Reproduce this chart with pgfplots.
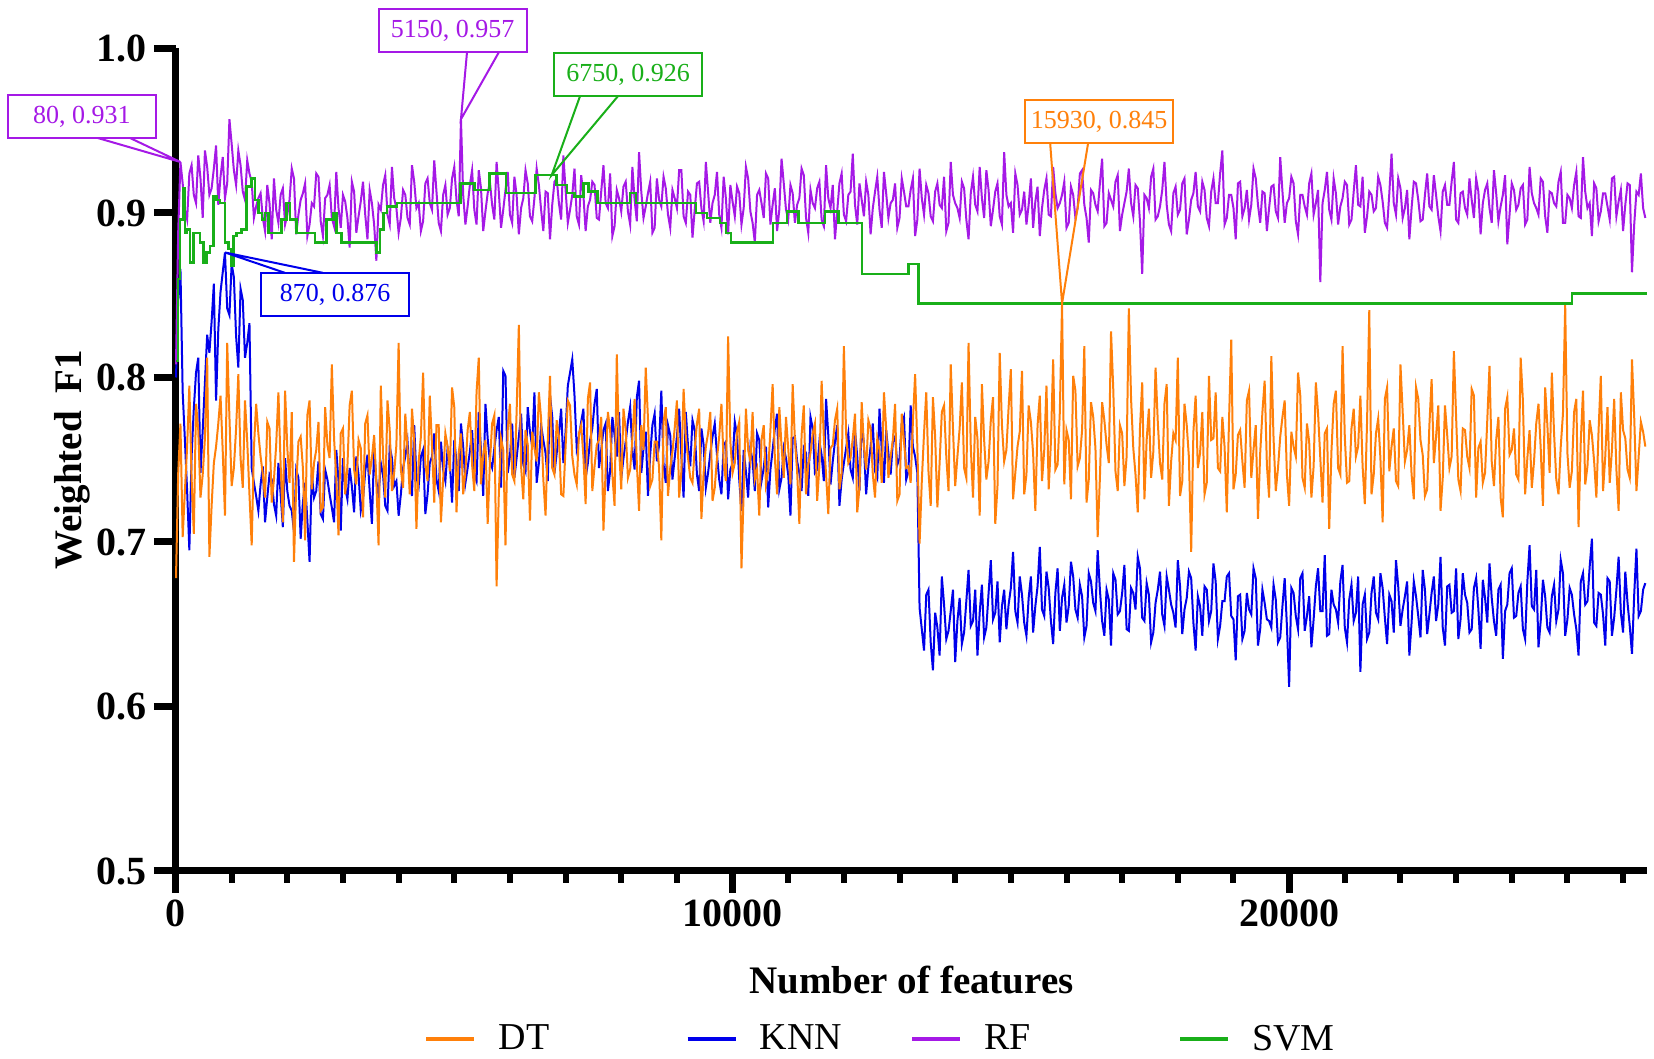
\documentclass[border=0pt]{standalone}
\usepackage{fontspec}
\setmainfont{Liberation Serif}[BoldFont={Liberation Serif Bold}]
\usepackage{pgfplots}
\usepackage{pgfplotstable}
\pgfplotsset{compat=1.18}
\definecolor{cDT}{RGB}{255,128,10}
\definecolor{cKNN}{RGB}{0,0,235}
\definecolor{cRF}{RGB}{165,25,230}
\definecolor{cSVM}{RGB}{25,175,25}

\pgfplotstableread{
x dt knn rf
0 0.678 0.800 0.808
40 0.742 0.848 0.889
80 0.772 0.866 0.931
120 0.703 0.791 0.918
160 0.731 0.762 0.902
200 0.758 0.731 0.896
240 0.795 0.695 0.924
280 0.739 0.752 0.929
320 0.705 0.781 0.911
360 0.784 0.803 0.906
400 0.768 0.812 0.935
440 0.727 0.742 0.921
480 0.741 0.768 0.897
520 0.763 0.797 0.938
560 0.812 0.826 0.928
600 0.691 0.815 0.911
640 0.722 0.834 0.915
680 0.748 0.857 0.927
720 0.758 0.786 0.941
760 0.772 0.829 0.905
800 0.789 0.852 0.922
840 0.755 0.864 0.934
880 0.716 0.876 0.909
920 0.821 0.842 0.918
960 0.776 0.838 0.957
1000 0.734 0.869 0.942
1040 0.745 0.861 0.926
1080 0.769 0.825 0.917
1120 0.802 0.806 0.938
1160 0.751 0.854 0.929
1200 0.733 0.847 0.913
1240 0.786 0.812 0.908
1280 0.761 0.821 0.932
1320 0.729 0.833 0.924
1360 0.698 0.745 0.919
1400 0.757 0.736 0.897
1440 0.784 0.728 0.904
1480 0.766 0.719 0.909
1520 0.752 0.735 0.912
1560 0.741 0.746 0.897
1600 0.727 0.712 0.889
1640 0.773 0.727 0.917
1680 0.769 0.741 0.906
1720 0.724 0.738 0.884
1760 0.738 0.723 0.921
1800 0.759 0.716 0.902
1840 0.791 0.748 0.894
1880 0.747 0.729 0.911
1920 0.712 0.709 0.915
1960 0.792 0.751 0.893
2000 0.757 0.731 0.899
2040 0.736 0.722 0.908
2080 0.779 0.719 0.927
2120 0.688 0.706 0.921
2160 0.734 0.744 0.887
2200 0.761 0.739 0.899
2240 0.764 0.702 0.908
2280 0.745 0.724 0.912
2320 0.701 0.736 0.918
2360 0.777 0.713 0.886
2400 0.786 0.688 0.893
2440 0.732 0.742 0.906
2480 0.748 0.727 0.904
2520 0.756 0.731 0.924
2560 0.773 0.749 0.922
2600 0.719 0.717 0.895
2640 0.721 0.714 0.886
2680 0.782 0.744 0.909
2720 0.759 0.738 0.911
2760 0.751 0.729 0.917
2800 0.808 0.721 0.897
2840 0.763 0.712 0.892
2880 0.739 0.756 0.925
2920 0.704 0.737 0.903
2960 0.766 0.707 0.891
3000 0.769 0.751 0.911
3040 0.729 0.733 0.907
3080 0.746 0.726 0.897
3120 0.783 0.745 0.879
3160 0.792 0.734 0.919
3200 0.744 0.718 0.913
3240 0.735 0.752 0.888
3280 0.762 0.741 0.898
3320 0.757 0.719 0.907
3360 0.715 0.726 0.919
3400 0.772 0.743 0.899
3440 0.777 0.753 0.884
3480 0.741 0.731 0.914
3520 0.751 0.711 0.906
3560 0.765 0.757 0.893
3600 0.736 0.737 0.871
3640 0.698 0.728 0.905
3680 0.795 0.748 0.902
3720 0.753 0.741 0.917
3760 0.727 0.722 0.923
3800 0.786 0.719 0.899
3840 0.768 0.758 0.893
3880 0.731 0.751 0.928
3920 0.742 0.734 0.909
3960 0.759 0.737 0.903
4000 0.821 0.716 0.888
4040 0.744 0.729 0.897
4080 0.733 0.745 0.914
4120 0.778 0.752 0.911
4160 0.756 0.761 0.897
4200 0.729 0.738 0.893
4240 0.781 0.728 0.929
4280 0.762 0.771 0.919
4320 0.708 0.739 0.903
4360 0.749 0.734 0.906
4400 0.764 0.752 0.889
4440 0.803 0.756 0.895
4480 0.747 0.717 0.918
4520 0.737 0.729 0.921
4560 0.789 0.748 0.906
4600 0.758 0.752 0.902
4640 0.724 0.766 0.932
4680 0.771 0.738 0.913
4720 0.771 0.731 0.894
4760 0.712 0.761 0.889
4800 0.738 0.744 0.911
4840 0.766 0.737 0.917
4880 0.758 0.757 0.899
4920 0.743 0.749 0.903
4960 0.794 0.724 0.921
5000 0.782 0.762 0.928
5040 0.718 0.749 0.908
5080 0.754 0.731 0.898
5120 0.766 0.772 0.957
5160 0.729 0.758 0.911
5200 0.743 0.736 0.893
5240 0.768 0.745 0.904
5280 0.779 0.755 0.917
5320 0.747 0.768 0.926
5360 0.731 0.741 0.902
5400 0.791 0.737 0.893
5440 0.812 0.779 0.926
5480 0.735 0.756 0.915
5520 0.753 0.728 0.889
5560 0.762 0.784 0.901
5600 0.711 0.763 0.912
5640 0.748 0.749 0.919
5680 0.772 0.745 0.905
5720 0.777 0.757 0.896
5760 0.673 0.768 0.931
5800 0.729 0.776 0.913
5840 0.763 0.733 0.891
5880 0.756 0.804 0.902
5920 0.698 0.801 0.914
5960 0.768 0.742 0.925
6000 0.784 0.752 0.899
6040 0.741 0.772 0.894
6080 0.737 0.739 0.922
6120 0.779 0.751 0.911
6160 0.832 0.764 0.887
6200 0.746 0.778 0.903
6240 0.726 0.747 0.909
6280 0.768 0.743 0.926
6320 0.759 0.782 0.918
6360 0.713 0.767 0.898
6400 0.767 0.758 0.895
6440 0.757 0.791 0.909
6480 0.749 0.736 0.927
6520 0.791 0.748 0.917
6560 0.775 0.771 0.902
6600 0.738 0.762 0.889
6640 0.716 0.754 0.913
6680 0.762 0.737 0.912
6720 0.801 0.789 0.884
6760 0.745 0.776 0.905
6800 0.741 0.742 0.919
6840 0.774 0.754 0.921
6880 0.764 0.766 0.906
6920 0.729 0.781 0.896
6960 0.728 0.748 0.935
7000 0.758 0.767 0.914
7040 0.786 0.795 0.894
7080 0.783 0.803 0.902
7120 0.752 0.811 0.911
7160 0.741 0.789 0.927
7200 0.735 0.757 0.898
7240 0.766 0.764 0.893
7280 0.771 0.773 0.923
7320 0.752 0.781 0.911
7360 0.723 0.739 0.889
7400 0.787 0.748 0.904
7440 0.797 0.762 0.908
7480 0.731 0.769 0.919
7520 0.746 0.784 0.917
7560 0.759 0.793 0.897
7600 0.762 0.745 0.896
7640 0.776 0.756 0.913
7680 0.707 0.768 0.929
7720 0.744 0.772 0.906
7760 0.779 0.731 0.903
7800 0.768 0.743 0.924
7840 0.741 0.776 0.886
7880 0.722 0.765 0.892
7920 0.814 0.752 0.914
7960 0.757 0.779 0.909
8000 0.732 0.739 0.901
8040 0.781 0.751 0.916
8080 0.768 0.761 0.919
8120 0.739 0.773 0.901
8160 0.744 0.782 0.893
8200 0.763 0.756 0.928
8240 0.787 0.744 0.908
8280 0.748 0.788 0.895
8320 0.719 0.798 0.937
8360 0.771 0.742 0.913
8400 0.756 0.757 0.897
8440 0.806 0.767 0.904
8480 0.775 0.728 0.912
8520 0.734 0.753 0.919
8560 0.738 0.771 0.888
8600 0.761 0.778 0.891
8640 0.761 0.749 0.921
8680 0.745 0.759 0.908
8720 0.701 0.792 0.904
8760 0.773 0.747 0.922
8800 0.782 0.736 0.915
8840 0.728 0.771 0.899
8880 0.745 0.765 0.891
8920 0.755 0.738 0.914
8960 0.769 0.751 0.909
9000 0.786 0.764 0.903
9040 0.727 0.781 0.926
9080 0.743 0.752 0.926
9120 0.793 0.727 0.898
9160 0.764 0.779 0.894
9200 0.751 0.758 0.913
9240 0.739 0.746 0.911
9280 0.736 0.774 0.885
9320 0.757 0.768 0.902
9360 0.772 0.741 0.918
9400 0.781 0.731 0.919
9440 0.714 0.769 0.903
9480 0.742 0.759 0.895
9520 0.758 0.733 0.931
9560 0.766 0.742 0.913
9600 0.779 0.754 0.894
9640 0.725 0.764 0.906
9680 0.733 0.772 0.911
9720 0.751 0.753 0.925
9760 0.764 0.738 0.899
9800 0.784 0.729 0.891
9840 0.748 0.759 0.922
9880 0.737 0.761 0.909
9920 0.825 0.726 0.887
9960 0.761 0.744 0.917
10000 0.742 0.748 0.907
10040 0.748 0.773 0.898
10080 0.767 0.765 0.916
10120 0.773 0.738 0.912
10160 0.684 0.719 0.893
10200 0.731 0.756 0.903
10240 0.781 0.743 0.928
10280 0.756 0.727 0.921
10320 0.749 0.757 0.901
10360 0.779 0.749 0.894
10400 0.738 0.731 0.882
10440 0.744 0.766 0.911
10480 0.716 0.762 0.914
10520 0.762 0.737 0.906
10560 0.771 0.745 0.897
10600 0.735 0.758 0.924
10640 0.743 0.721 0.921
10680 0.768 0.744 0.893
10720 0.796 0.756 0.905
10760 0.751 0.769 0.915
10800 0.729 0.778 0.889
10840 0.782 0.732 0.902
10880 0.758 0.739 0.933
10920 0.739 0.757 0.918
10960 0.776 0.751 0.902
11000 0.757 0.741 0.896
11040 0.735 0.716 0.917
11080 0.796 0.763 0.912
11120 0.762 0.764 0.894
11160 0.743 0.749 0.905
11200 0.711 0.742 0.909
11240 0.765 0.731 0.927
11280 0.783 0.757 0.923
11320 0.729 0.754 0.897
11360 0.747 0.728 0.888
11400 0.754 0.776 0.914
11440 0.766 0.769 0.906
11480 0.772 0.742 0.903
11520 0.725 0.744 0.915
11560 0.746 0.761 0.919
11600 0.798 0.753 0.896
11640 0.763 0.737 0.892
11680 0.741 0.787 0.929
11720 0.717 0.765 0.909
11760 0.757 0.735 0.903
11800 0.759 0.749 0.917
11840 0.774 0.761 0.884
11880 0.781 0.771 0.901
11920 0.732 0.722 0.918
11960 0.742 0.738 0.924
12000 0.819 0.748 0.899
12040 0.766 0.757 0.895
12080 0.748 0.766 0.911
12120 0.751 0.744 0.913
12160 0.763 0.739 0.936
12200 0.778 0.768 0.905
12240 0.718 0.752 0.893
12280 0.733 0.731 0.918
12320 0.785 0.774 0.908
12360 0.758 0.759 0.898
12400 0.744 0.729 0.919
12440 0.774 0.746 0.911
12480 0.769 0.758 0.887
12520 0.741 0.772 0.903
12560 0.727 0.743 0.913
12600 0.763 0.739 0.922
12640 0.756 0.781 0.902
12680 0.736 0.756 0.891
12720 0.791 0.736 0.925
12760 0.769 0.768 0.912
12800 0.739 0.754 0.897
12840 0.752 0.741 0.906
12880 0.762 0.761 0.908
12920 0.784 0.764 0.918
12960 0.725 0.747 0.891
13000 0.729 0.751 0.897
13040 0.778 0.772 0.921
13080 0.761 0.776 0.913
13120 0.745 0.738 0.904
13160 0.746 0.743 0.904
13200 0.736 0.783 0.914
13240 0.773 0.758 0.921
13280 0.802 0.752 0.886
13320 0.758 0.742 0.896
13360 0.699 0.660 0.927
13400 0.737 0.647 0.909
13440 0.766 0.634 0.899
13480 0.791 0.668 0.917
13520 0.743 0.671 0.912
13560 0.722 0.639 0.898
13600 0.788 0.622 0.895
13640 0.764 0.657 0.913
13680 0.721 0.648 0.918
13720 0.748 0.631 0.905
13760 0.779 0.679 0.903
13800 0.783 0.662 0.922
13840 0.752 0.641 0.889
13880 0.731 0.646 0.894
13920 0.808 0.658 0.931
13960 0.769 0.671 0.911
14000 0.734 0.627 0.906
14040 0.752 0.652 0.903
14080 0.769 0.666 0.897
14120 0.797 0.638 0.919
14160 0.745 0.645 0.915
14200 0.739 0.664 0.896
14240 0.821 0.683 0.884
14280 0.758 0.649 0.912
14320 0.727 0.652 0.922
14360 0.776 0.671 0.905
14400 0.763 0.631 0.901
14440 0.716 0.657 0.928
14480 0.796 0.674 0.909
14520 0.762 0.642 0.897
14560 0.738 0.648 0.926
14600 0.749 0.669 0.914
14640 0.774 0.689 0.892
14680 0.788 0.653 0.902
14720 0.711 0.657 0.913
14760 0.734 0.676 0.918
14800 0.815 0.639 0.898
14840 0.771 0.661 0.893
14880 0.749 0.671 0.937
14920 0.756 0.647 0.911
14960 0.782 0.662 0.904
15000 0.805 0.672 0.906
15040 0.726 0.694 0.888
15080 0.742 0.658 0.924
15120 0.758 0.651 0.917
15160 0.767 0.679 0.899
15200 0.804 0.668 0.902
15240 0.729 0.651 0.913
15280 0.741 0.643 0.893
15320 0.783 0.666 0.905
15360 0.773 0.679 0.921
15400 0.754 0.645 0.891
15440 0.719 0.661 0.907
15480 0.771 0.673 0.916
15520 0.789 0.697 0.886
15560 0.737 0.659 0.903
15600 0.756 0.655 0.914
15640 0.795 0.682 0.921
15680 0.732 0.672 0.899
15720 0.761 0.652 0.898
15760 0.811 0.638 0.928
15800 0.744 0.669 0.912
15840 0.747 0.684 0.903
15880 0.779 0.646 0.906
15920 0.845 0.666 0.911
15960 0.735 0.674 0.919
16000 0.768 0.651 0.891
16040 0.762 0.661 0.894
16080 0.726 0.688 0.916
16120 0.801 0.679 0.911
16160 0.792 0.659 0.897
16200 0.746 0.654 0.903
16240 0.751 0.674 0.924
16280 0.768 0.667 0.926
16320 0.819 0.642 0.905
16360 0.724 0.649 0.897
16400 0.738 0.681 0.882
16440 0.785 0.676 0.914
16480 0.776 0.663 0.912
16520 0.757 0.658 0.905
16560 0.703 0.695 0.901
16600 0.739 0.671 0.918
16640 0.785 0.652 0.933
16680 0.774 0.643 0.892
16720 0.759 0.671 0.894
16760 0.748 0.665 0.912
16800 0.828 0.637 0.908
16840 0.793 0.681 0.904
16880 0.743 0.677 0.919
16920 0.731 0.656 0.923
16960 0.771 0.658 0.889
17000 0.766 0.669 0.899
17040 0.734 0.686 0.906
17080 0.752 0.647 0.913
17120 0.842 0.646 0.927
17160 0.787 0.672 0.906
17200 0.757 0.669 0.898
17240 0.741 0.659 0.917
17280 0.718 0.691 0.915
17320 0.769 0.684 0.895
17360 0.797 0.654 0.863
17400 0.726 0.652 0.911
17440 0.762 0.675 0.909
17480 0.781 0.668 0.903
17520 0.739 0.639 0.922
17560 0.755 0.645 0.927
17600 0.806 0.663 0.896
17640 0.773 0.671 0.898
17680 0.748 0.682 0.904
17720 0.738 0.656 0.914
17760 0.784 0.649 0.931
17800 0.796 0.679 0.905
17840 0.722 0.671 0.893
17880 0.749 0.662 0.889
17920 0.766 0.657 0.912
17960 0.762 0.648 0.916
18000 0.812 0.689 0.899
18040 0.728 0.673 0.902
18080 0.737 0.644 0.918
18120 0.784 0.659 0.921
18160 0.771 0.666 0.887
18200 0.751 0.682 0.896
18240 0.694 0.678 0.908
18280 0.767 0.651 0.912
18320 0.789 0.634 0.925
18360 0.745 0.667 0.904
18400 0.754 0.661 0.901
18440 0.779 0.643 0.919
18480 0.729 0.673 0.914
18520 0.736 0.671 0.897
18560 0.801 0.652 0.892
18600 0.762 0.658 0.913
18640 0.763 0.687 0.921
18680 0.791 0.676 0.906
18720 0.745 0.641 0.906
18760 0.743 0.649 0.924
18800 0.776 0.664 0.938
18840 0.758 0.664 0.893
18880 0.718 0.679 0.897
18920 0.774 0.681 0.911
18960 0.823 0.655 0.911
19000 0.732 0.653 0.903
19040 0.741 0.628 0.884
19080 0.765 0.667 0.918
19120 0.768 0.668 0.919
19160 0.749 0.641 0.898
19200 0.733 0.646 0.903
19240 0.786 0.669 0.914
19280 0.792 0.659 0.896
19320 0.739 0.656 0.905
19360 0.756 0.684 0.927
19400 0.771 0.678 0.921
19440 0.714 0.637 0.905
19480 0.754 0.647 0.894
19520 0.779 0.671 0.913
19560 0.798 0.663 0.912
19600 0.747 0.653 0.889
19640 0.727 0.652 0.903
19680 0.813 0.648 0.916
19720 0.763 0.674 0.917
19760 0.731 0.665 0.901
19800 0.745 0.639 0.897
19840 0.764 0.642 0.934
19880 0.776 0.661 0.913
19920 0.786 0.678 0.894
19960 0.741 0.649 0.906
20000 0.722 0.612 0.909
20040 0.767 0.672 0.922
20080 0.758 0.669 0.918
20120 0.752 0.655 0.895
20160 0.803 0.647 0.887
20200 0.789 0.678 0.911
20240 0.739 0.681 0.911
20280 0.733 0.646 0.904
20320 0.772 0.655 0.899
20360 0.761 0.667 0.918
20400 0.727 0.636 0.924
20440 0.746 0.653 0.899
20480 0.797 0.673 0.906
20520 0.778 0.684 0.914
20560 0.751 0.658 0.858
20600 0.724 0.658 0.906
20640 0.766 0.692 0.914
20680 0.769 0.643 0.925
20720 0.708 0.644 0.902
20760 0.755 0.671 0.896
20800 0.784 0.662 0.921
20840 0.792 0.659 0.912
20880 0.745 0.651 0.893
20920 0.741 0.676 0.904
20960 0.819 0.686 0.909
21000 0.764 0.648 0.919
21040 0.736 0.639 0.917
21080 0.737 0.665 0.893
21120 0.769 0.674 0.896
21160 0.781 0.652 0.913
21200 0.752 0.657 0.929
21240 0.758 0.679 0.905
21280 0.789 0.621 0.904
21320 0.746 0.662 0.922
21360 0.723 0.668 0.888
21400 0.773 0.641 0.898
21440 0.841 0.645 0.913
21480 0.729 0.669 0.911
21520 0.741 0.679 0.901
21560 0.766 0.657 0.903
21600 0.775 0.653 0.922
21640 0.751 0.681 0.917
21680 0.712 0.672 0.907
21720 0.787 0.654 0.894
21760 0.794 0.638 0.891
21800 0.743 0.668 0.912
21840 0.758 0.664 0.936
21880 0.769 0.645 0.906
21920 0.737 0.689 0.899
21960 0.734 0.673 0.921
22000 0.808 0.649 0.915
22040 0.779 0.659 0.897
22080 0.749 0.667 0.903
22120 0.756 0.676 0.914
22160 0.771 0.631 0.884
22200 0.741 0.651 0.903
22240 0.726 0.676 0.919
22280 0.794 0.667 0.918
22320 0.787 0.655 0.908
22360 0.762 0.642 0.895
22400 0.753 0.683 0.896
22440 0.728 0.671 0.911
22480 0.732 0.644 0.924
22520 0.771 0.656 0.904
22560 0.799 0.669 0.902
22600 0.748 0.679 0.923
22640 0.764 0.652 0.911
22680 0.783 0.662 0.898
22720 0.719 0.691 0.889
22760 0.739 0.648 0.913
22800 0.783 0.637 0.917
22840 0.765 0.673 0.905
22880 0.745 0.674 0.905
22920 0.752 0.657 0.919
22960 0.816 0.658 0.931
23000 0.776 0.684 0.896
23040 0.738 0.641 0.894
23080 0.731 0.653 0.912
23120 0.769 0.681 0.913
23160 0.768 0.668 0.903
23200 0.752 0.663 0.899
23240 0.745 0.645 0.921
23280 0.793 0.647 0.908
23320 0.789 0.672 0.897
23360 0.727 0.678 0.921
23400 0.757 0.659 0.913
23440 0.761 0.635 0.887
23480 0.736 0.677 0.906
23520 0.742 0.666 0.914
23560 0.774 0.651 0.918
23600 0.807 0.687 0.903
23640 0.749 0.666 0.894
23680 0.734 0.652 0.926
23720 0.762 0.643 0.912
23760 0.776 0.671 0.895
23800 0.727 0.674 0.904
23840 0.715 0.629 0.911
23880 0.781 0.658 0.923
23920 0.788 0.662 0.881
23960 0.753 0.681 0.899
24000 0.756 0.684 0.918
24040 0.769 0.654 0.914
24080 0.741 0.655 0.902
24120 0.738 0.669 0.905
24160 0.812 0.673 0.915
24200 0.786 0.647 0.917
24240 0.729 0.641 0.893
24280 0.751 0.676 0.896
24320 0.768 0.698 0.928
24360 0.733 0.661 0.912
24400 0.749 0.659 0.906
24440 0.772 0.683 0.903
24480 0.784 0.636 0.899
24520 0.757 0.652 0.921
24560 0.722 0.677 0.919
24600 0.794 0.667 0.898
24640 0.771 0.648 0.888
24680 0.742 0.645 0.913
24720 0.803 0.667 0.912
24760 0.766 0.674 0.906
24800 0.738 0.652 0.904
24840 0.729 0.659 0.919
24880 0.758 0.689 0.925
24920 0.778 0.681 0.894
24960 0.844 0.643 0.894
25000 0.754 0.653 0.911
25040 0.733 0.672 0.909
25080 0.743 0.668 0.903
25120 0.779 0.656 0.917
25160 0.787 0.647 0.925
25200 0.709 0.631 0.898
25240 0.761 0.676 0.897
25280 0.792 0.681 0.934
25320 0.735 0.662 0.913
25360 0.746 0.664 0.903
25400 0.774 0.685 0.906
25440 0.765 0.702 0.886
25480 0.749 0.651 0.918
25520 0.727 0.649 0.915
25560 0.768 0.669 0.895
25600 0.801 0.668 0.901
25640 0.731 0.656 0.912
25680 0.752 0.637 0.912
25720 0.782 0.678 0.904
25760 0.736 0.676 0.896
25800 0.756 0.643 0.921
25840 0.787 0.654 0.922
25880 0.744 0.671 0.898
25920 0.719 0.691 0.907
25960 0.791 0.657 0.914
26000 0.768 0.645 0.889
26040 0.763 0.682 0.905
26080 0.744 0.663 0.918
26120 0.739 0.649 0.917
26160 0.811 0.632 0.864
26200 0.776 0.668 0.893
26240 0.731 0.696 0.913
26280 0.752 0.655 0.911
26320 0.773 0.658 0.924
26360 0.767 0.671 0.903
26400 0.758 0.675 0.897
}\noisy

\pgfplotstableread{
x y
0 0.810
40 0.860
72 0.896
132 0.915
162 0.888
192 0.890
252 0.870
311 0.888
431 0.882
491 0.870
551 0.876
611 0.880
671 0.910
731 0.908
791 0.906
881 0.882
940 0.878
1000 0.868
1030 0.886
1090 0.888
1180 0.890
1270 0.916
1360 0.921
1420 0.908
1480 0.900
1540 0.896
1600 0.900
1659 0.888
1899 0.896
1989 0.906
2048 0.896
2168 0.888
2498 0.882
2707 0.896
2827 0.900
2887 0.888
2977 0.882
3606 0.876
3666 0.890
3726 0.900
3786 0.904
3966 0.906
5110 0.918
5360 0.914
5630 0.924
5930 0.912
6460 0.923
6840 0.917
7020 0.912
7160 0.910
7320 0.918
7410 0.913
7570 0.906
8160 0.912
8260 0.906
9345 0.900
9536 0.897
9776 0.894
9884 0.888
9968 0.882
10722 0.894
10974 0.901
11184 0.894
11664 0.901
11903 0.894
12323 0.863
13161 0.869
13341 0.845
25080 0.851
26430 0.851
}\svm

\begin{document}
\begin{tikzpicture}
\begin{axis}[
  scale only axis, width=735.5pt, height=411.25pt,
  xmin=0, xmax=26430, ymin=0.5, ymax=1.0,
  clip=false,
  axis x line*=bottom, axis y line*=left,
  axis line style={line width=3.5pt, -},
  xtick={0,10000,20000},
  scaled x ticks=false,
  minor xtick={1000,2000,...,26000},
  ytick={0.5,0.6,0.7,0.8,0.9,1.0},
  tick align=outside,
  major tick length=11pt, minor tick length=6pt,
  major tick style={line width=3.5pt, black},
  minor tick style={line width=3pt, black},
  tick label style={font=\fontsize{20}{22}\selectfont\bfseries},
  /pgf/number format/assume math mode=true,
  xticklabel style={/pgf/number format/1000 sep={}},
  yticklabel style={/pgf/number format/.cd, fixed, fixed zerofill, precision=1},
  xlabel={Number of features},
  xlabel style={at={(axis description cs:0.5,0)}, anchor=base, yshift=-61pt, font=\fontsize{19.5}{22}\selectfont\bfseries},
  ylabel={Weighted\hspace{0.45em}F1},
  ylabel style={at={(axis description cs:-0.0639,0.5)}, anchor=base, rotate=0, font=\fontsize{19.5}{22}\selectfont\bfseries},
  legend style={draw=none, fill=none, legend columns=4, at={(axis description cs:0.4796,0)}, anchor=center, yshift=-84pt, font=\fontsize{19}{21}\selectfont,
    /tikz/column 2/.style={column sep=66pt}, /tikz/column 4/.style={column sep=32pt}, /tikz/column 6/.style={column sep=71.5pt}},
  legend image code/.code={\draw[#1] (0pt,0pt) -- (24pt,0pt); \path (33pt,0pt);},
]
\addplot[cKNN, line width=1pt, forget plot] table[x=x, y=knn] {\noisy};
\addplot[cDT, line width=1pt, forget plot] table[x=x, y=dt] {\noisy};
\addplot[cRF, line width=1pt, forget plot] table[x=x, y=rf] {\noisy};
\addplot[cSVM, line width=1.2pt, const plot, forget plot] table[x=x, y=y] {\svm};

\addlegendimage{cDT, line width=2.2pt}\addlegendentry{DT}
\addlegendimage{cKNN, line width=2.2pt}\addlegendentry{KNN}
\addlegendimage{cRF, line width=2.2pt}\addlegendentry{RF}
\addlegendimage{cSVM, line width=2.2pt}\addlegendentry{SVM}

\tikzset{callout/.style={draw=#1, text=#1, line width=1pt, fill=white, font=\fontsize{13}{15}\selectfont, minimum width=74pt, minimum height=21.5pt, inner sep=2pt}}
\draw[cRF, line width=1pt] (axis cs:-1438,0.9459) -- (axis cs:80,0.931) -- (axis cs:-845,0.9459);
\node[callout=cRF] at (axis cs:-1689,0.9587) {80, 0.931};
\draw[cRF, line width=1pt] (axis cs:5229,0.9979) -- (axis cs:5120,0.957) -- (axis cs:5804,0.9979);
\node[callout=cRF] at (axis cs:4969,1.0109) {5150, 0.957};
\draw[cSVM, line width=1pt] (axis cs:7260,0.9711) -- (axis cs:6750,0.923) -- (axis cs:7943,0.9711);
\node[callout=cSVM] at (axis cs:8122,0.9842) {6750, 0.926};
\draw[cKNN, line width=1pt] (axis cs:1959,0.8636) -- (axis cs:880,0.876) -- (axis cs:2642,0.8636);
\node[callout=cKNN] at (axis cs:2857,0.8505) {870, 0.876};
\draw[cDT, line width=1pt] (axis cs:15706,0.9427) -- (axis cs:15920,0.845) -- (axis cs:16389,0.9427);
\node[callout=cDT] at (axis cs:16586,0.9557) {15930, 0.845};

\coordinate (SW) at (rel axis cs:0,0);
\coordinate (NE) at (rel axis cs:1,1);
\end{axis}
\pgfresetboundingbox
\path[use as bounding box] ([xshift=-88pt,yshift=-94pt]SW) rectangle ([xshift=3.5pt,yshift=24.25pt]NE);
\end{tikzpicture}
\end{document}
